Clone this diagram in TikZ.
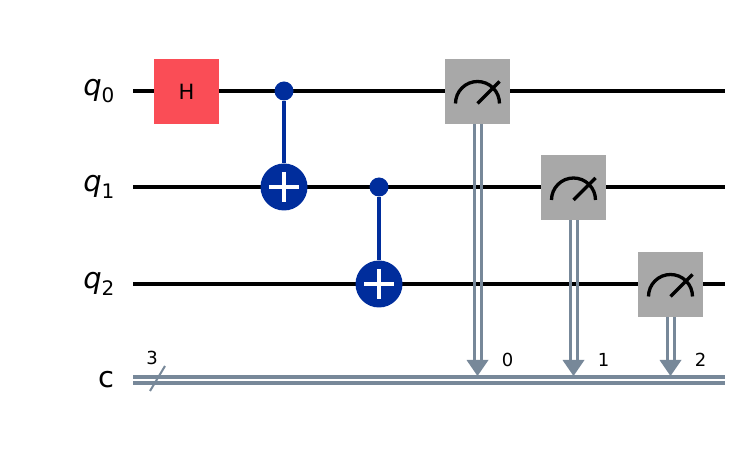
\documentclass[tikz,border=0pt]{standalone}
\usepackage{fontspec}
\setmainfont{DejaVu Sans}
\begin{document}
\begin{tikzpicture}[x=1pt,y=-1pt,
  wire/.style={line width=3.3pt,black},
  cwire/.style={line width=3.3pt,color=cgray},
  gate/.style={draw=none,minimum width=65pt,minimum height=65pt,inner sep=0},
  lbl/.style={font=\fontsize{29}{29}\selectfont,anchor=east},
  ]
\definecolor{hred}{HTML}{FA4D56}
\definecolor{mgray}{HTML}{A8A8A8}
\definecolor{cblue}{HTML}{002D9C}
\definecolor{cgray}{HTML}{778899}
\useasboundingbox (0,0) rectangle (748,454);
% labels
\node[lbl] (l0) at (118,91) {\itshape q\raisebox{-0.45ex}{\fontsize{20}{20}\selectfont\upshape 0}};
\node[lbl] (l1) at (118,187) {\itshape q\raisebox{-0.45ex}{\fontsize{20}{20}\selectfont\upshape 1}};
\node[lbl] (l2) at (118,284) {\itshape q\raisebox{-0.45ex}{\fontsize{20}{20}\selectfont\upshape 2}};
\node[lbl] (lc) at (118,380) {c};
% wires
\foreach \y in {91,187,284} \draw[wire] (133,\y) -- (725,\y);
\draw[cwire] (133,377) -- (725,377);
\draw[cwire] (133,383) -- (725,383);
\draw[line width=2pt,cgray] (150,391) -- (165,366);
\node[font=\fontsize{18}{18}\selectfont] (n3) at (152,358) {3};
% H
\node[gate,fill=hred,font=\fontsize{21}{21}\selectfont] (h) at (186.5,91.5) {H};
% CNOTs
\tikzset{ctrl/.style={circle,fill=cblue,minimum size=19pt,inner sep=0},
  targ/.style={circle,fill=cblue,minimum size=47pt,inner sep=0}}
\node[ctrl] (c1) at (284,91) {};
\node[targ] (t1) at (284,187) {};
\draw[cblue,line width=3.3pt] (c1) -- (t1);
\draw[white,line width=3.5pt] (284,172) -- (284,202) (269,187) -- (299,187);
\node[ctrl] (c2) at (379,187) {};
\node[targ] (t2) at (379,284) {};
\draw[cblue,line width=3.3pt] (c2) -- (t2);
\draw[white,line width=3.5pt] (379,269) -- (379,299) (364,284) -- (394,284);
% measures
\foreach \i/\x/\y in {0/477.5/91.5,1/573.5/188,2/670.5/284.5}{
  \draw[cgray,line width=3pt] (\x-3.5,\y+32) -- (\x-3.5,362) (\x+3.5,\y+32) -- (\x+3.5,362);
  \fill[cgray] (\x-11,360) -- (\x+11,360) -- (\x,376) -- cycle;
  \node[gate,fill=mgray] (m\i) at (\x,\y) {};
  \draw[black,line width=3.3pt] (\x-22,\y+12) arc[start angle=180,end angle=360,radius=22];
  \draw[black,line width=3.3pt] (\x,\y+12) -- (\x+22,\y-10);
  \node[font=\fontsize{18}{18}\selectfont] (k\i) at (\x+30,360) {\i};
}
\end{tikzpicture}
\end{document}
